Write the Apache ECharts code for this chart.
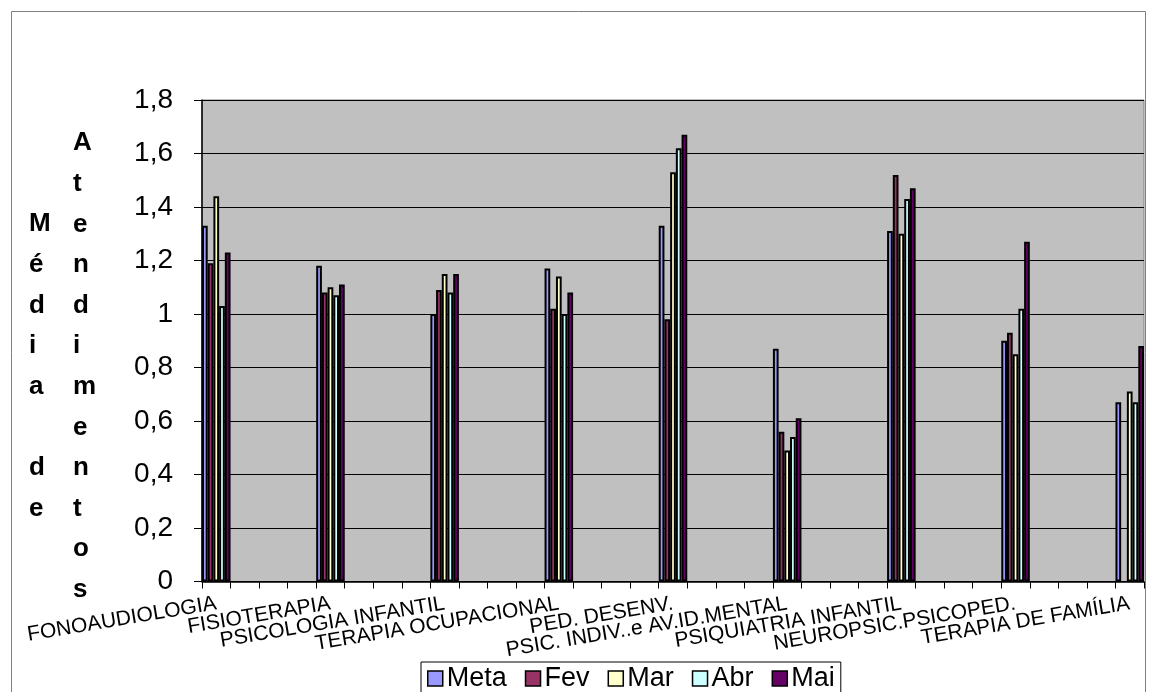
<!DOCTYPE html>
<html>
<head>
<meta charset="utf-8">
<script src="https://cdn.jsdelivr.net/npm/echarts@6/dist/echarts.min.js"></script>
<style>
  html, body { margin: 0; padding: 0; background: #ffffff; }
  #chart { width: 1156px; height: 692px; }
</style>
</head>
<body>
<div id="chart"></div>
<script>
// Services shown on the category axis
const CATEGORIES = [
  'FONOAUDIOLOGIA', 'FISIOTERAPIA', 'PSICOLOGIA INFANTIL', 'TERAPIA OCUPACIONAL',
  'PED. DESENV.', 'PSIC. INDIV..e AV.ID.MENTAL', 'PSIQUIATRIA INFANTIL',
  'NEUROPSIC.PSICOPED.', 'TERAPIA DE FAMÍLIA'
];

// Average number of appointments per service
const META = [1.33, 1.18, 1.00, 1.17, 1.33, 0.87, 1.31, 0.90, 0.67];
const FEV  = [1.19, 1.08, 1.09, 1.02, 0.98, 0.56, 1.52, 0.93, null];
const MAR  = [1.44, 1.10, 1.15, 1.14, 1.53, 0.49, 1.30, 0.85, 0.71];
const ABR  = [1.03, 1.07, 1.08, 1.00, 1.62, 0.54, 1.43, 1.02, 0.67];
const MAI  = [1.23, 1.11, 1.15, 1.08, 1.67, 0.61, 1.47, 1.27, 0.88];

const SERIES_NAMES = ['Meta', 'Fev', 'Mar', 'Abr', 'Mai'];
const SERIES_VALUES = [META, FEV, MAR, ABR, MAI];
const SERIES_COLORS = ['#9999ff', '#993366', '#ffffcc', '#ccffff', '#660066'];

const Y_AXIS_TITLE_LEFT = 'Média de';
const Y_AXIS_TITLE_RIGHT = 'Atendimentos';

// The source sheet has three empty rows between services, so each
// service occupies one slot out of every four on the axis.
const SLOTS_PER_SERVICE = 4;
const axisCategories = [];
CATEGORIES.forEach((name, i) => {
  axisCategories.push(name);
  if (i < CATEGORIES.length - 1) {
    for (let k = 1; k < SLOTS_PER_SERVICE; k++) axisCategories.push('');
  }
});
function spread(values) {
  const out = new Array(axisCategories.length).fill(null);
  values.forEach((v, i) => { out[i * SLOTS_PER_SERVICE] = v; });
  return out;
}

const FONT = '"Liberation Sans", Arial, sans-serif';
const chart = echarts.init(document.getElementById('chart'), null, { renderer: 'canvas' });

// One letter per line, a blank line for each space
const stacked = (word) => word.split('').map(c => (c === ' ' ? '' : c)).join('\n');

chart.setOption({
  animation: false,
  backgroundColor: '#ffffff',
  textStyle: { fontFamily: FONT, color: '#000' },
  grid: {
    left: 202, right: 12, top: 100, bottom: 110.5,
    show: true, backgroundColor: '#c0c0c0',
    borderColor: '#808080', borderWidth: 1
  },
  legend: {
    data: SERIES_NAMES,
    left: 421, top: 662,
    padding: [3, 6, 12, 6],
    itemGap: 18,
    itemWidth: 15, itemHeight: 15,
    icon: 'rect',
    borderColor: '#000', borderWidth: 1,
    backgroundColor: '#ffffff',
    itemStyle: { borderColor: '#000', borderWidth: 1.5 },
    textStyle: { fontFamily: FONT, fontSize: 27, color: '#000', padding: [0, 0, 0, -1] }
  },
  xAxis: {
    type: 'category',
    data: axisCategories,
    boundaryGap: true,
    axisLine: { lineStyle: { color: '#000', width: 1.5 } },
    axisTick: { show: true, interval: 0, length: 7, lineStyle: { color: '#000', width: 1 } },
    axisLabel: {
      interval: 0, rotate: 9.5, margin: 22,
      fontFamily: FONT, fontSize: 21, color: '#000'
    },
    splitLine: { show: false }
  },
  yAxis: {
    type: 'value',
    min: 0, max: 1.8, interval: 0.2,
    axisLine: { show: true, lineStyle: { color: '#000', width: 1.5 } },
    axisTick: { show: true, length: 8, lineStyle: { color: '#000', width: 1 } },
    axisLabel: {
      margin: 29, fontFamily: FONT, fontSize: 28, color: '#000',
      formatter: v => String(Math.round(v * 10) / 10).replace('.', ',')
    },
    splitLine: { show: true, lineStyle: { color: '#000', width: 1 } }
  },
  series: SERIES_NAMES.map((name, i) => ({
    name,
    type: 'bar',
    data: spread(SERIES_VALUES[i]),
    barGap: '0%',
    barCategoryGap: '0%',
    itemStyle: { color: SERIES_COLORS[i], borderColor: '#000', borderWidth: 2 }
  })),
  graphic: [
    {
      type: 'rect', silent: true, z: -1,
      shape: { x: 11.5, y: 11.5, width: 1134, height: 700 },
      style: { fill: null, stroke: '#808080', lineWidth: 1 }
    },
    {
      type: 'text', left: 29, top: 204,
      style: {
        text: stacked(Y_AXIS_TITLE_LEFT),
        font: 'bold 26px ' + FONT, fill: '#000',
        lineHeight: 40.6, align: 'center'
      }
    },
    {
      type: 'text', left: 73, top: 123,
      style: {
        text: stacked(Y_AXIS_TITLE_RIGHT),
        font: 'bold 26px ' + FONT, fill: '#000',
        lineHeight: 40.6, align: 'center'
      }
    }
  ]
});
</script>
</body>
</html>
